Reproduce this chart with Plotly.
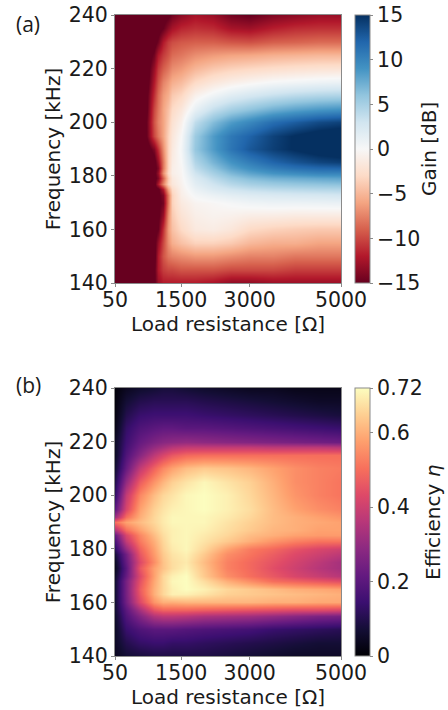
import plotly.graph_objects as go

# ---------- data ----------
gain_r = [50, 700, 900, 1000, 1100, 1200, 1300, 1500, 1800, 2200, 2600, 3000, 3500, 4000, 4500, 5000]
gain_f = [140, 145, 150, 155, 160, 165, 170, 173, 175, 177, 179, 181, 183, 185, 190, 195, 200, 205, 210, 215, 220, 225, 230, 235, 240]
gain_z = [
    [-18, -17, -15.5, -13, -12, -12, -12, -12, -12, -12.5, -13.5, -13.5, -13, -13, -13, -13],
    [-18, -17, -15.5, -12, -10.5, -10, -10, -9.5, -9.5, -9.5, -10, -10, -10, -10.5, -10.5, -10.5],
    [-18, -17, -16, -12, -9.5, -8, -7.5, -7, -6.5, -6.5, -7, -7.5, -7.5, -8, -8, -8],
    [-18, -17, -16, -13, -10, -7, -5.5, -4.5, -3.5, -3.5, -4, -5, -5.5, -5.5, -6, -6],
    [-18, -17, -16, -15, -11, -6.5, -4.5, -3, -1.5, -1.2, -1.8, -3, -3.5, -3.8, -4, -4],
    [-18, -17, -16, -15.5, -13, -7, -4, -2.2, -1, -0.6, -0.8, -1.2, -1.3, -1.5, -1.5, -1.5],
    [-18, -17, -16, -15.5, -14.5, -8, -3.5, -1.5, -0.5, -0.2, 0.2, 0.6, 0.8, 0.8, 0.9, 1],
    [-18, -17, -16, -15.5, -14, -8, -3.5, -1, 0.3, 1, 1.6, 2, 2.3, 2.5, 2.6, 2.8],
    [-18, -17, -16, -15.5, -12, -6, -2.8, -0.8, 1, 2.2, 3, 3.6, 4, 4.2, 4.4, 4.5],
    [-18, -17, -16, -12, -7.5, -3.5, -1.8, -0.6, 1.6, 3, 4.2, 5, 5.5, 5.8, 6, 6.2],
    [-18, -17, -16, -14, -9, -4, -1.5, -0.4, 2.2, 4, 5.5, 6.5, 7.2, 7.5, 7.8, 8],
    [-18, -17, -16, -13, -7, -3, -1, -0.3, 3, 5, 6.8, 8, 9, 9.5, 10, 10],
    [-18, -17, -16, -14, -8, -3.5, -1, -0.2, 3.8, 6, 8, 9.3, 10.5, 11.3, 11.8, 12],
    [-18, -17, -16, -13, -8, -3.5, -1.2, 0, 4.5, 7, 9, 10.5, 12, 13, 13.8, 14.2],
    [-18, -17, -14, -11, -7, -3.5, -1.5, 0.3, 5.8, 8.5, 11, 12.8, 14.2, 15.2, 16, 16.5],
    [-18, -16, -10, -8, -6, -3.5, -1.8, 0, 5.5, 8.5, 10.8, 12.2, 14, 15.2, 16, 16.5],
    [-18, -16, -9.5, -7.5, -6, -4, -2.3, -0.8, 3.8, 6.5, 8.5, 9.8, 11.5, 12.5, 13.5, 14],
    [-18, -16.5, -10, -8, -6, -4.5, -3, -1.8, 1.2, 3.5, 5, 6, 7.2, 8, 8.6, 9],
    [-18, -16.5, -11, -8.5, -6.5, -5.5, -4, -3.2, -0.8, 0.6, 1.8, 2.6, 3.4, 4, 4.4, 4.6],
    [-18, -17, -12, -9.5, -7.5, -6.5, -5.5, -4.8, -3, -1.8, -1, -0.4, 0.2, 0.5, 0.8, 1],
    [-18, -17, -13, -10.5, -9, -8, -7, -6.4, -5, -4, -3.4, -3, -2.6, -2.3, -2.1, -2],
    [-18, -17, -14.5, -12, -10.5, -9.5, -8.5, -8, -7, -6.4, -6, -5.8, -5.4, -5.2, -5, -5],
    [-18, -17, -16, -14.5, -12, -10.5, -9.8, -9.3, -9, -9, -9.4, -9.6, -9, -8.8, -8.5, -8.5],
    [-18, -17, -16.5, -16, -15, -13.5, -12.5, -11.5, -11, -11.3, -12.5, -12.8, -11.8, -11.2, -11, -11],
    [-18, -17, -17, -16.5, -16, -15.5, -14.5, -13.5, -12.5, -13, -14.5, -15, -14, -13.5, -13, -13],
]

eff_r = [50, 300, 600, 900, 1100, 1300, 1600, 2000, 2500, 3000, 3500, 4000, 4500, 5000]
eff_f = [140, 145, 150, 155, 157, 160, 163, 165, 168, 170, 173, 175, 178, 180, 183, 185, 187, 190, 192, 195, 200, 205, 210, 215, 218, 220, 225, 230, 235, 240]
eff_z = [
    [.04, .07, .08, .09, .09, .09, .09, .09, .08, .07, .06, .05, .05, .05],
    [.05, .10, .13, .14, .14, .13, .13, .12, .11, .10, .09, .08, .07, .07],
    [.05, .14, .18, .20, .20, .20, .19, .18, .17, .16, .14, .13, .12, .11],
    [.06, .18, .27, .35, .37, .37, .36, .34, .33, .32, .30, .28, .26, .25],
    [.07, .20, .33, .45, .48, .48, .48, .47, .46, .45, .44, .43, .43, .42],
    [.07, .24, .43, .56, .60, .60, .61, .61, .61, .61, .60, .60, .59, .59],
    [.07, .25, .46, .60, .66, .70, .70, .68, .65, .64, .63, .62, .61, .60],
    [.07, .25, .47, .60, .66, .70, .72, .70, .66, .64, .62, .60, .59, .58],
    [.07, .25, .45, .59, .66, .71, .72, .67, .60, .55, .50, .48, .46, .44],
    [.06, .22, .43, .58, .66, .70, .72, .64, .55, .50, .46, .42, .39, .36],
    [.04, .20, .46, .58, .63, .67, .70, .63, .53, .49, .44, .40, .36, .33],
    [.05, .22, .43, .55, .63, .67, .69, .62, .53, .49, .45, .41, .37, .33],
    [.08, .24, .46, .57, .64, .68, .70, .64, .55, .51, .47, .43, .40, .37],
    [.12, .30, .48, .58, .65, .69, .71, .66, .58, .52, .49, .45, .42, .40],
    [.17, .38, .52, .60, .66, .70, .71, .68, .64, .60, .56, .53, .51, .51],
    [.22, .42, .54, .62, .67, .70, .71, .69, .66, .62, .60, .58, .57, .57],
    [.35, .50, .58, .64, .68, .70, .71, .70, .67, .64, .61, .60, .58, .58],
    [.50, .58, .62, .66, .69, .71, .71, .71, .68, .65, .62, .60, .59, .58],
    [.32, .50, .60, .66, .69, .71, .71, .71, .69, .66, .62, .60, .58, .56],
    [.20, .42, .58, .65, .68, .70, .71, .72, .70, .67, .62, .58, .55, .53],
    [.13, .38, .54, .62, .66, .68, .71, .72, .70, .66, .61, .56, .53, .51],
    [.10, .30, .47, .56, .61, .65, .68, .71, .68, .65, .60, .55, .53, .51],
    [.07, .22, .38, .48, .54, .58, .62, .64, .63, .61, .58, .55, .53, .52],
    [.05, .18, .28, .37, .42, .46, .49, .50, .50, .50, .50, .50, .50, .50],
    [.05, .16, .24, .30, .33, .36, .38, .38, .38, .38, .37, .37, .37, .36],
    [.05, .15, .22, .26, .28, .29, .30, .29, .28, .27, .26, .25, .24, .23],
    [.03, .13, .18, .20, .21, .21, .20, .20, .19, .18, .17, .16, .15, .14],
    [.02, .10, .14, .15, .15, .15, .15, .14, .13, .12, .11, .10, .09, .08],
    [.015, .07, .10, .11, .11, .11, .11, .10, .09, .08, .07, .06, .05, .05],
    [.01, .04, .06, .07, .08, .08, .07, .06, .05, .04, .04, .03, .03, .03],
]

x_ticks = [50, 1500, 3000, 5000]
y_ticks = [140, 160, 180, 200, 220, 240]
gain_ticks = [-15, -10, -5, 0, 5, 10, 15]
gain_labels = ["\u221215", "\u221210", "\u22125", "0", "5", "10", "15"]
eff_ticks = [0, 0.2, 0.4, 0.6, 0.72]
eff_labels = ["0", "0.2", "0.4", "0.6", "0.72"]

rdbu = ["#67001f", "#b2182b", "#d6604d", "#f4a582", "#fddbc7", "#f7f7f7",
        "#d1e5f0", "#92c5de", "#4393c3", "#2166ac", "#053061"]
magma = ["#000004", "#140e36", "#3b0f70", "#641a80", "#8c2981", "#b73779",
         "#de4968", "#f7705c", "#fe9f6d", "#fecf92", "#fcfdbf"]
def scale(cols):
    return [[i / (len(cols) - 1), c] for i, c in enumerate(cols)]

W, H = 448, 710
FONT = "DejaVu Sans"
TXT = "#1a1a1a"
FRAME = "#8a8a8a"
X0, X1 = 115, 341
CB_X = 355
A_TOP, A_BOT = 15, 283
B_TOP, B_BOT = 388, 656
TICK = 20.5
LABEL = 20

def cbar(top, bot, tv, tt):
    return dict(x=CB_X / W, xanchor="left", xpad=0,
                y=1 - bot / H, yanchor="bottom", ypad=0,
                len=(bot - top) / H, lenmode="fraction",
                thickness=15, thicknessmode="pixels",
                tickvals=tv, ticktext=tt, ticks="outside", ticklen=3,
                tickwidth=1, tickcolor=FRAME, outlinecolor=FRAME, outlinewidth=1,
                ticklabeloverflow="allow",
                tickfont=dict(family=FONT, size=TICK, color=TXT))

fig = go.Figure()
fig.add_trace(go.Heatmap(x=gain_r, y=gain_f, z=gain_z, zmin=-15, zmax=15, zsmooth="best",
                         colorscale=scale(rdbu),
                         colorbar=cbar(A_TOP, A_BOT, gain_ticks, gain_labels),
                         xaxis="x", yaxis="y"))
fig.add_trace(go.Heatmap(x=eff_r, y=eff_f, z=eff_z, zmin=0, zmax=0.72, zsmooth="best",
                         colorscale=scale(magma),
                         colorbar=cbar(B_TOP, B_BOT, eff_ticks, eff_labels),
                         xaxis="x2", yaxis="y2"))

def xax(anchor):
    return dict(domain=[X0 / W, X1 / W], range=[50, 5000], anchor=anchor, automargin=False,
                tickvals=x_ticks, ticks="outside", ticklen=3, tickcolor=FRAME,
                ticklabelstandoff=-5, ticklabeloverflow="allow",
                showgrid=False, zeroline=False, showline=True, linecolor=FRAME, mirror=True,
                tickfont=dict(family=FONT, size=TICK, color=TXT), tickangle=0,
                title=dict(text="Load resistance [\u03a9]", standoff=0,
                           font=dict(family=FONT, size=LABEL, color=TXT)))

def yax(anchor, top, bot):
    return dict(domain=[1 - bot / H, 1 - top / H], range=[140, 240], anchor=anchor, automargin=False,
                tickvals=y_ticks, ticks="outside", ticklen=3, tickcolor=FRAME,
                ticklabelstandoff=-1, ticklabeloverflow="allow",
                showgrid=False, zeroline=False, showline=True, linecolor=FRAME, mirror=True,
                tickfont=dict(family=FONT, size=TICK, color=TXT),
                title=dict(text="Frequency [kHz]", standoff=2,
                           font=dict(family=FONT, size=LABEL, color=TXT)))

def note(text, px, py, size, angle=0, family=FONT):
    return dict(text=text, x=px / W, y=1 - py / H, xref="paper", yref="paper", showarrow=False,
                xanchor="center", yanchor="middle", textangle=angle,
                font=dict(family=family, size=size, color=TXT))

fig.update_layout(
    width=W, height=H, autosize=False,
    margin=dict(l=0, r=0, t=0, b=0),
    paper_bgcolor="white", plot_bgcolor="white", showlegend=False,
    xaxis=xax("y"), yaxis=yax("x", A_TOP, A_BOT),
    xaxis2=xax("y2"), yaxis2=yax("x2", B_TOP, B_BOT),
    annotations=[
        note("(a)", 28, 24, 21, family="Open Sans"),
        note("(b)", 28, 385, 21, family="Open Sans"),
        note("Gain [dB]", 429, 149, LABEL, angle=-90),
        note("Efficiency <i>\u03b7</i>", 433, 522, LABEL, angle=-90),
    ],
)
fig.write_html("out.html", config={"displayModeBar": False},
               post_script="document.body.style.margin='0';document.body.style.overflow='hidden';")
